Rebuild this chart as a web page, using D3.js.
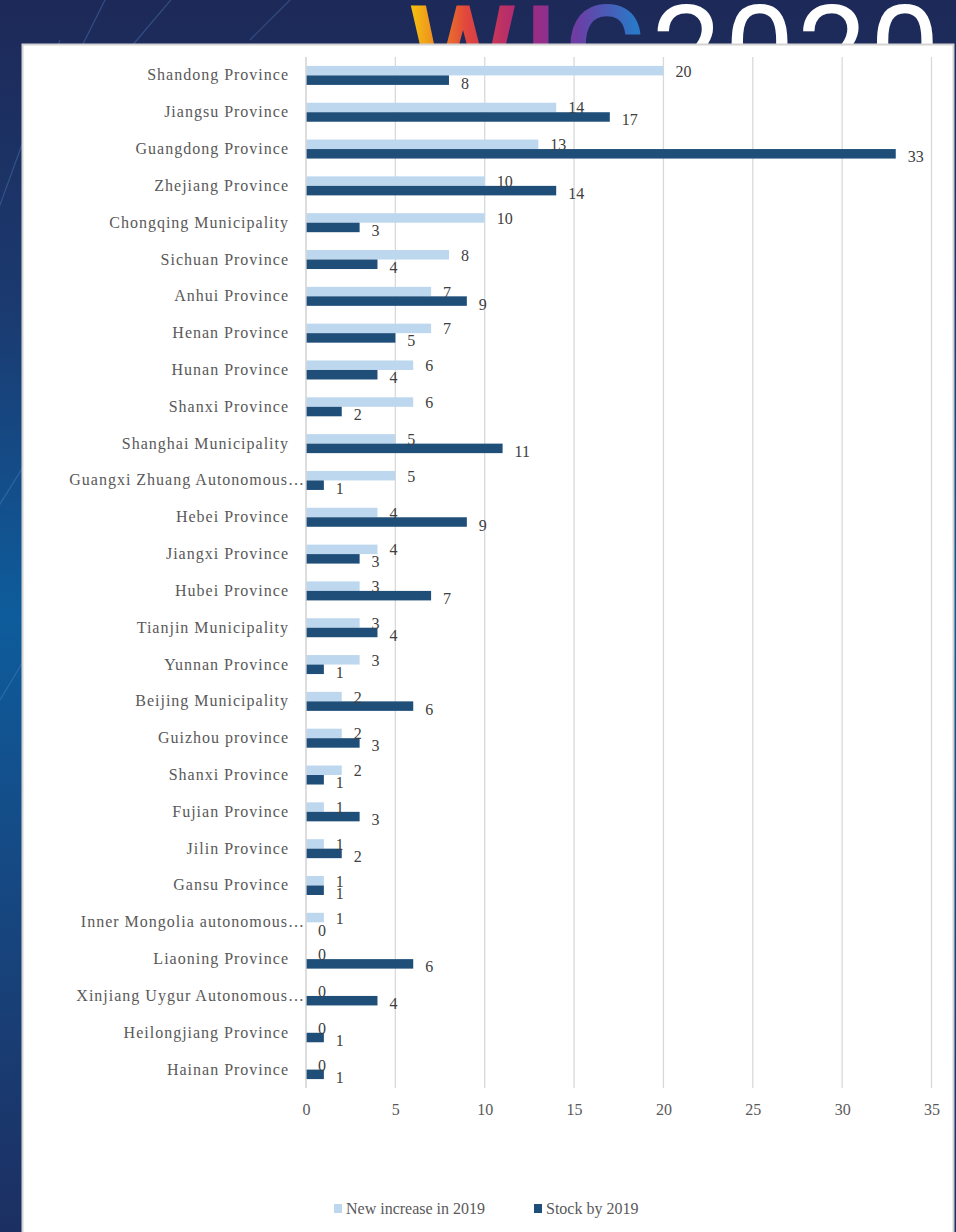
<!DOCTYPE html>
<html>
<head>
<meta charset="utf-8">
<script src="https://cdn.jsdelivr.net/npm/d3@7"></script>
<style>
  html, body { margin: 0; padding: 0; background: #1c2a58; }
  svg { display: block; }
</style>
</head>
<body>
<svg id="chart" width="956" height="1232"></svg>
<script>
// Provinces, top to bottom
const categories = [
  "Shandong Province", "Jiangsu Province", "Guangdong Province", "Zhejiang Province",
  "Chongqing Municipality", "Sichuan Province", "Anhui Province", "Henan Province",
  "Hunan Province", "Shanxi Province", "Shanghai Municipality", "Guangxi Zhuang Autonomous\u2026",
  "Hebei Province", "Jiangxi Province", "Hubei Province", "Tianjin Municipality",
  "Yunnan Province", "Beijing Municipality", "Guizhou province", "Shanxi Province",
  "Fujian Province", "Jilin Province", "Gansu Province", "Inner Mongolia autonomous\u2026",
  "Liaoning Province", "Xinjiang Uygur Autonomous\u2026", "Heilongjiang Province", "Hainan Province"
];
const newIncrease2019 = [20, 14, 13, 10, 10, 8, 7, 7, 6, 6, 5, 5, 4, 4, 3, 3, 3, 2, 2, 2, 1, 1, 1, 1, 0, 0, 0, 0];
const stockBy2019     = [8, 17, 33, 14, 3, 4, 9, 5, 4, 2, 11, 1, 9, 3, 7, 4, 1, 6, 3, 1, 3, 2, 1, 0, 6, 4, 1, 1];
const seriesNames = ["New increase in 2019", "Stock by 2019"];
const xTicks = [0, 5, 10, 15, 20, 25, 30, 35];

const colors = { "New increase in 2019": "#bdd7ee", "Stock by 2019": "#1f4e79" };
const serif = "Liberation Serif, Times New Roman, serif";

const svg = d3.select("#chart");
const W = 956, H = 1232;
const defs = svg.append("defs");

// ---- backdrop: slide background with conference logo ----
const bg = defs.append("linearGradient").attr("id", "bg").attr("x1", 0).attr("y1", 0).attr("x2", 0).attr("y2", 1);
bg.append("stop").attr("offset", "0%").attr("stop-color", "#1d2958");
bg.append("stop").attr("offset", "25%").attr("stop-color", "#1b3a70");
bg.append("stop").attr("offset", "50%").attr("stop-color", "#0e5c9c");
bg.append("stop").attr("offset", "75%").attr("stop-color", "#17457e");
bg.append("stop").attr("offset", "100%").attr("stop-color", "#1c2f62");
svg.append("rect").attr("width", W).attr("height", H).attr("fill", "url(#bg)");

// faint diagonal streaks
const streaks = [[-20, 260, 60, 40], [30, 150, 110, -10], [120, 60, 175, -5], [-10, 520, 40, 440], [250, 40, 300, -10], [0, 700, 30, 650]];
svg.append("g").selectAll("line").data(streaks).join("line")
  .attr("x1", d => d[0]).attr("y1", d => d[1]).attr("x2", d => d[2]).attr("y2", d => d[3])
  .attr("stroke", "#5b8fd0").attr("stroke-opacity", 0.35).attr("stroke-width", 1.2);

const logoGrad = defs.append("linearGradient").attr("id", "logoGrad").attr("gradientUnits", "userSpaceOnUse")
  .attr("x1", 410).attr("y1", 0).attr("x2", 635).attr("y2", 0);
logoGrad.append("stop").attr("offset", "0%").attr("stop-color", "#f6c40c");
logoGrad.append("stop").attr("offset", "25%").attr("stop-color", "#e2463c");
logoGrad.append("stop").attr("offset", "50%").attr("stop-color", "#a8267a");
logoGrad.append("stop").attr("offset", "75%").attr("stop-color", "#6a3fa6");
logoGrad.append("stop").attr("offset", "100%").attr("stop-color", "#2a78c8");
svg.append("text").attr("x", 408).attr("y", 94)
  .attr("font-family", "Roboto, sans-serif").attr("font-size", 124).attr("font-weight", 500)
  .attr("fill", "url(#logoGrad)").attr("letter-spacing", 6).text("WIC");
svg.append("text").attr("x", 652).attr("y", 94)
  .attr("font-family", "Roboto, sans-serif").attr("font-size", 124).attr("font-weight", 400)
  .attr("fill", "#ffffff").attr("letter-spacing", 3).text("2020");

// ---- white chart panel ----
svg.append("rect").attr("x", 22.5).attr("y", 44.5).attr("width", 931).attr("height", 1200)
  .attr("fill", "#ffffff").attr("stroke", "#d4d4d4").attr("stroke-width", 2);

// ---- scales ----
const plot = { left: 306, right: 931.5, top: 57, bottom: 1088 };
const x = d3.scaleLinear().domain([0, 35]).range([plot.left, plot.right]);
const y = d3.scaleBand().domain(d3.range(categories.length)).range([plot.top, plot.bottom]).padding(0);
const groupH = 19;
const ySub = d3.scaleBand().domain(seriesNames).range([0, groupH]).padding(0);

const rows = categories.map((c, i) => ({
  i, name: c,
  values: [
    { key: seriesNames[0], v: newIncrease2019[i] },
    { key: seriesNames[1], v: stockBy2019[i] }
  ]
}));

// vertical gridlines
svg.append("g").selectAll("line").data(xTicks).join("line")
  .attr("x1", d => x(d)).attr("x2", d => x(d))
  .attr("y1", plot.top).attr("y2", plot.bottom)
  .attr("stroke", "#d9d9d9").attr("stroke-width", 1.3);

// x axis tick labels
const xAxis = d3.axisBottom(x).tickValues(xTicks).tickSize(0).tickPadding(0);
const gx = svg.append("g").attr("transform", `translate(0,${plot.bottom + 27})`).call(xAxis);
gx.attr("font-family", serif).attr("font-size", 16);
gx.select(".domain").remove();
gx.selectAll("text").attr("fill", "#595959").attr("dy", 0);

// category labels
svg.append("g").selectAll("text").data(rows).join("text")
  .attr("x", d => d.name.endsWith("\u2026") ? plot.left - 1 : plot.left - 17)
  .attr("y", d => y(d.i) + y.bandwidth() / 2 + 5)
  .attr("text-anchor", "end")
  .attr("font-family", serif).attr("font-size", 16).attr("letter-spacing", 1)
  .attr("fill", "#595959")
  .text(d => d.name);

// bars
const groups = svg.append("g").selectAll("g").data(rows).join("g")
  .attr("transform", d => `translate(0,${y(d.i) + y.bandwidth() / 2 - groupH / 2})`);
groups.selectAll("rect").data(d => d.values).join("rect")
  .attr("x", x(0))
  .attr("y", d => ySub(d.key))
  .attr("width", d => x(d.v) - x(0))
  .attr("height", ySub.bandwidth())
  .attr("fill", d => colors[d.key]);

// value labels
groups.selectAll("text").data(d => d.values).join("text")
  .attr("x", d => x(d.v) + 12)
  .attr("y", d => ySub(d.key) + ySub.bandwidth() / 2 + (d.key === seriesNames[0] ? 6 : 8.5))
  .attr("font-family", serif).attr("font-size", 16)
  .attr("fill", "#404040")
  .text(d => d.v);

// axis line at zero
svg.append("line").attr("x1", x(0)).attr("x2", x(0)).attr("y1", plot.top).attr("y2", plot.bottom)
  .attr("stroke", "#d9d9d9").attr("stroke-width", 1.3);

// legend
const legendX = [334, 534];
const legend = svg.append("g").selectAll("g").data(seriesNames).join("g")
  .attr("transform", (d, i) => `translate(${legendX[i]},1204)`);
legend.append("rect").attr("width", 8).attr("height", 9).attr("fill", d => colors[d]);
legend.append("text").attr("x", 12).attr("y", 10)
  .attr("font-family", serif).attr("font-size", 16).attr("fill", "#595959")
  .text(d => d);
</script>
</body>
</html>
